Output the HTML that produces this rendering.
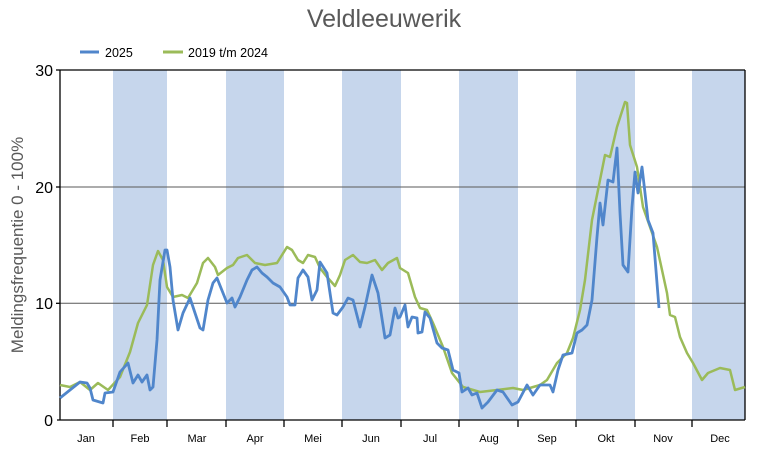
<!DOCTYPE html>
<html><head><meta charset="utf-8"><style>
html,body{margin:0;padding:0;background:#fff;}
svg{display:block;font-family:"Liberation Sans",sans-serif;}
</style></head><body>
<svg width="765" height="450" viewBox="0 0 765 450" xmlns="http://www.w3.org/2000/svg">
<rect width="765" height="450" fill="#fff"/>
<g fill="#c6d6ec">
<rect x="113" y="70" width="54" height="350"/>
<rect x="226" y="70" width="58" height="350"/>
<rect x="342" y="70" width="59" height="350"/>
<rect x="459" y="70" width="59" height="350"/>
<rect x="576" y="70" width="59" height="350"/>
<rect x="692" y="70" width="53" height="350"/>
</g>
<g stroke="#595959" stroke-width="1">
<line x1="60" y1="187" x2="745" y2="187"/>
<line x1="60" y1="303.3" x2="745" y2="303.3"/>
</g>
<g stroke="#000" stroke-width="1.3" fill="none">
<line x1="60" y1="70" x2="745" y2="70"/>
<line x1="745" y1="70" x2="745" y2="420"/>
<line x1="60" y1="70" x2="60" y2="420"/>
<line x1="57" y1="420" x2="745" y2="420"/>
<line x1="56" y1="70" x2="60" y2="70"/><line x1="56" y1="187" x2="60" y2="187"/><line x1="56" y1="303.3" x2="60" y2="303.3"/>
<line x1="113" y1="420" x2="113" y2="427"/><line x1="167" y1="420" x2="167" y2="427"/><line x1="226" y1="420" x2="226" y2="427"/><line x1="284" y1="420" x2="284" y2="427"/><line x1="342" y1="420" x2="342" y2="427"/><line x1="401" y1="420" x2="401" y2="427"/><line x1="459" y1="420" x2="459" y2="427"/><line x1="518" y1="420" x2="518" y2="427"/><line x1="576" y1="420" x2="576" y2="427"/><line x1="635" y1="420" x2="635" y2="427"/><line x1="692" y1="420" x2="692" y2="427"/>
</g>
<polyline fill="none" stroke="#9bbb59" stroke-width="2.5" stroke-linejoin="round" points="60,385 70,387 80,382 90,390 98,383 108,390 120,377 130,352 138,323 147,305 153,265 158,251 163,260 167,287 173,297 182,295 188,298 197,283 203,263 208,258 215,267 218,275 227,268 233,265 238,258 247,255 255,263 265,265 277,263 287,247 292,250 298,260 303,263 308,255 315,257 320,268 327,277 335,286 340,275 345,260 353,255 360,262 367,263 375,260 382,270 388,263 397,258 400,268 408,273 415,297 420,308 427,310 433,323 443,347 452,373 463,387 480,392 497,390 513,388 523,390 540,385 547,380 557,363 567,353 573,338 580,310 585,280 592,220 600,180 605,155 610,157 617,127 625,102 627,103 630,145 637,167 643,207 657,247 667,293 670,315 675,317 680,337 687,353 693,363 702,380 708,373 720,368 730,370 735,390 745,387"/>
<polyline fill="none" stroke="#5086cb" stroke-width="2.8" stroke-linejoin="round" points="60,398 70,390 80,382 87,383 90,388 93,400 103,403 105,393 113,392 120,372 128,363 133,383 138,375 142,382 147,375 150,390 153,387 157,340 160,280 165,250 167,250 170,267 173,300 178,330 183,313 190,298 195,313 200,328 203,330 208,300 213,283 217,278 223,293 227,303 232,298 235,307 240,297 247,280 252,270 257,267 262,273 267,277 273,283 280,287 287,297 290,305 295,305 298,278 303,270 308,277 312,300 317,290 320,262 327,273 333,313 337,315 343,307 348,298 353,300 360,327 365,307 372,275 378,293 385,338 390,335 395,308 398,318 400,317 405,305 408,327 412,317 417,318 418,333 422,332 425,312 430,318 437,343 442,348 448,350 453,370 459,373 462,392 468,388 472,395 477,393 482,408 488,402 497,390 503,392 512,405 518,402 527,385 533,395 540,385 550,385 553,392 558,370 563,355 572,353 577,333 582,330 587,325 592,300 597,237 600,203 603,225 608,180 613,182 617,148 620,213 623,265 628,272 632,207 635,172 638,193 642,167 645,193 648,220 653,233 659,308"/>
<text x="384" y="27" text-anchor="middle" font-size="25" fill="#595959">Veldleeuwerik</text>
<line x1="80" y1="52" x2="99" y2="52" stroke="#5086cb" stroke-width="3"/>
<text x="105" y="57" font-size="12.5" fill="#000">2025</text>
<line x1="163" y1="52" x2="183" y2="52" stroke="#9bbb59" stroke-width="3"/>
<text x="188" y="57" font-size="12.5" fill="#000">2019 t/m 2024</text>
<g font-size="16" fill="#000" text-anchor="end">
<text x="53" y="76">30</text><text x="53" y="193">20</text><text x="53" y="309">10</text><text x="53" y="426">0</text>
</g>
<text transform="translate(23,245) rotate(-90)" text-anchor="middle" font-size="17" fill="#595959">Meldingsfrequentie 0 - 100%</text>
<g font-size="11" fill="#000" text-anchor="middle">
<text x="86" y="442">Jan</text><text x="140" y="442">Feb</text><text x="197" y="442">Mar</text><text x="255" y="442">Apr</text><text x="313" y="442">Mei</text><text x="371" y="442">Jun</text><text x="430" y="442">Jul</text><text x="489" y="442">Aug</text><text x="547" y="442">Sep</text><text x="606" y="442">Okt</text><text x="663" y="442">Nov</text><text x="720" y="442">Dec</text>
</g>
</svg>
</body></html>
